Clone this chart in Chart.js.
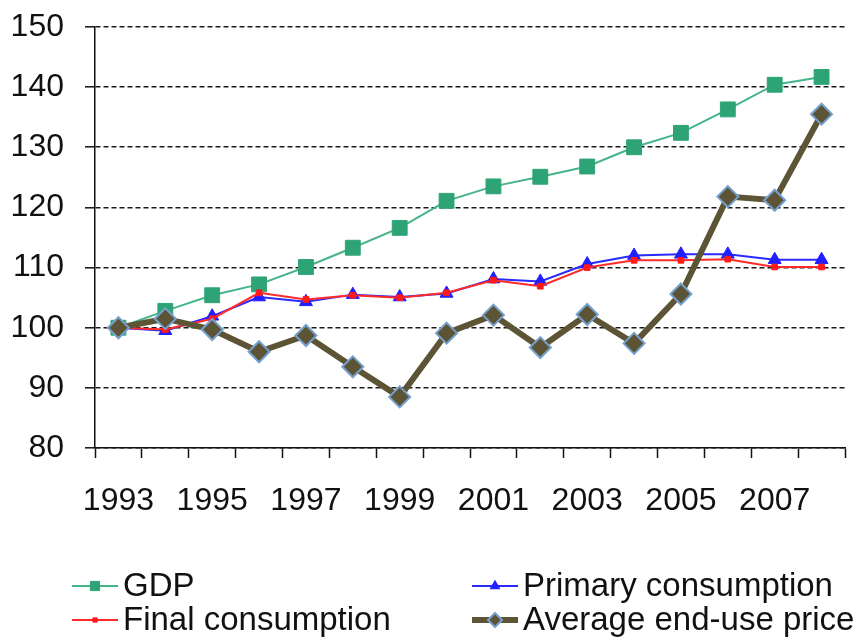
<!DOCTYPE html>
<html>
<head>
<meta charset="utf-8">
<script src="https://cdn.jsdelivr.net/npm/chart.js@4/dist/chart.umd.min.js"></script>
<style>
  html, body { margin: 0; padding: 0; background: #ffffff; }
  #wrap { width: 860px; height: 639px; position: relative; }
</style>
</head>
<body>
<div id="wrap"><canvas id="c" width="860" height="639"></canvas></div>
<script>
// Index values, 1993 = 100
const years = ['1993','1994','1995','1996','1997','1998','1999','2000','2001','2002','2003','2004','2005','2006','2007','2008'];
const gdp = [100, 102.8, 105.4, 107.2, 110.1, 113.3, 116.6, 121.1, 123.5, 125.1, 126.8, 130.0, 132.4, 136.3, 140.4, 141.7];
const primaryConsumption = [100, 99.5, 101.9, 105.1, 104.3, 105.5, 105.1, 105.7, 108.1, 107.7, 110.6, 112.0, 112.2, 112.2, 111.3, 111.3];
const finalConsumption = [100, 99.7, 101.5, 105.8, 104.7, 105.4, 105.0, 105.8, 107.9, 106.9, 110.0, 111.2, 111.2, 111.4, 110.1, 110.1];
const averagePrice = [100, 101.5, 99.7, 96.0, 98.7, 93.5, 88.5, 99.1, 102.1, 96.7, 102.2, 97.4, 105.6, 121.8, 121.2, 135.5];
const yTicks = { min: 80, max: 150, step: 10 };
const legendLabels = ['GDP', 'Primary consumption', 'Final consumption', 'Average end-use price'];

const FONT = "'Liberation Sans', Arial, sans-serif";

// Two-column legend drawn below the axis
const gridLegend = {
  id: 'gridLegend',
  afterDraw(chart) {
    const ctx = chart.ctx;
    const ds = chart.data.datasets;
    const slots = [
      { i: 0, x: 72, y: 586 },
      { i: 1, x: 472, y: 586 },
      { i: 2, x: 72, y: 620 },
      { i: 3, x: 472, y: 620 }
    ];
    ctx.save();
    slots.forEach(s => {
      const d = ds[s.i];
      const lineW = 46;
      ctx.strokeStyle = d.borderColor;
      ctx.lineWidth = d.borderWidth;
      ctx.setLineDash([]);
      ctx.beginPath();
      ctx.moveTo(s.x, s.y);
      ctx.lineTo(s.x + lineW, s.y);
      ctx.stroke();
      ctx.fillStyle = d.pointBackgroundColor;
      ctx.strokeStyle = d.pointBorderColor;
      ctx.lineWidth = d.pointBorderWidth;
      Chart.helpers.drawPoint(ctx, { pointStyle: d.pointStyle, rotation: 0, borderWidth: d.pointBorderWidth, radius: d.legendRadius }, s.x + lineW / 2, s.y);
      ctx.fillStyle = '#111111';
      ctx.font = '33px ' + FONT;
      ctx.textBaseline = 'middle';
      ctx.textAlign = 'left';
      ctx.fillText(d.label, s.x + lineW + 5, s.y + 1);
    });
    ctx.restore();
  }
};

new Chart(document.getElementById('c'), {
  type: 'line',
  data: {
    labels: years,
    datasets: [
      {
        label: legendLabels[0], data: gdp, order: 3,
        borderColor: '#45b488', borderWidth: 2,
        pointStyle: 'rect', pointRadius: 10.5, pointBackgroundColor: '#2ea476',
        pointBorderColor: '#2ea476', pointBorderWidth: 1, legendRadius: 6.5
      },
      {
        label: legendLabels[1], data: primaryConsumption, order: 2,
        borderColor: '#2a2aff', borderWidth: 2,
        pointStyle: 'triangle', pointRadius: 7.5, pointBackgroundColor: '#1f1fff',
        pointBorderColor: '#1f1fff', pointBorderWidth: 1, legendRadius: 5.5
      },
      {
        label: legendLabels[2], data: finalConsumption, order: 1,
        borderColor: '#ff2a2a', borderWidth: 2,
        pointStyle: 'rect', pointRadius: 4, pointBackgroundColor: '#ff1a1a',
        pointBorderColor: '#ff1a1a', pointBorderWidth: 1, legendRadius: 3
      },
      {
        label: legendLabels[3], data: averagePrice, order: 0,
        borderColor: '#5c5434', borderWidth: 6,
        pointStyle: 'rectRot', pointRadius: 10.5, pointBackgroundColor: '#5c5434',
        pointBorderColor: '#74a0cf', pointBorderWidth: 2, legendRadius: 7
      }
    ]
  },
  options: {
    responsive: false,
    animation: false,
    devicePixelRatio: 1,
    layout: { padding: { top: 27, right: 15, left: 0, bottom: 0 } },
    elements: { line: { tension: 0 } },
    plugins: {
      legend: { display: false },
      tooltip: { enabled: false }
    },
    scales: {
      x: {
        offset: true,
        afterFit(scale) { scale.height = 191; scale.paddingLeft = 0; scale.paddingRight = 0; },
        grid: {
          offset: true, drawOnChartArea: false, drawTicks: true,
          tickLength: 10, tickColor: '#111111', tickWidth: 1.5
        },
        border: { display: true, color: '#111111', width: 1.5 },
        ticks: {
          autoSkip: false, maxRotation: 0, padding: 24,
          color: '#111111', font: { size: 32, family: FONT },
          callback(value, index) { return index % 2 === 0 ? years[index] : ''; }
        }
      },
      y: {
        min: yTicks.min, max: yTicks.max,
        afterFit(scale) { scale.width = 95; scale.paddingTop = 0; scale.paddingBottom = 0; },
        grid: {
          color: '#1a1a1a', lineWidth: 1.6, drawTicks: true, tickLength: 10,
          tickColor: '#111111', tickWidth: 1.5, tickBorderDash: []
        },
        border: { display: true, color: '#111111', width: 1.5, dash: [5, 3] },
        ticks: {
          stepSize: yTicks.step, padding: 21,
          color: '#111111', font: { size: 32, family: FONT }
        }
      }
    }
  },
  plugins: [gridLegend]
});
</script>
</body>
</html>
